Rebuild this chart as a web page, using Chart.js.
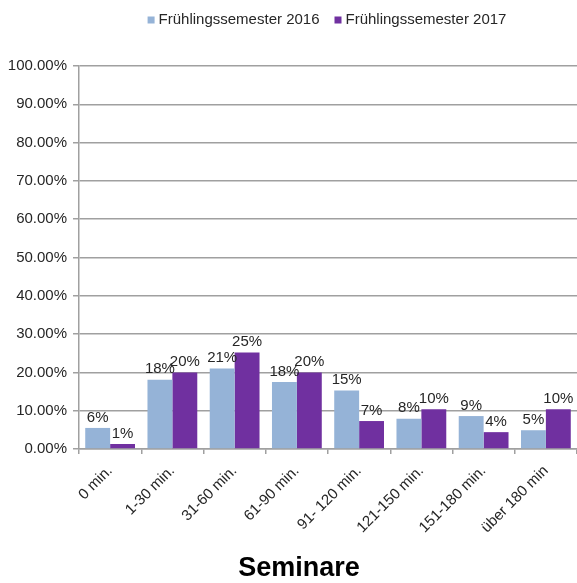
<!DOCTYPE html>
<html>
<head>
<meta charset="utf-8">
<script src="https://cdn.jsdelivr.net/npm/chart.js@4/dist/chart.umd.min.js"></script>
<style>
html,body{margin:0;padding:0;background:#fff;}
#wrap{position:relative;width:577px;height:583px;}
</style>
</head>
<body>
<div id="wrap"><canvas id="c" width="577" height="583"></canvas></div>
<script>
const categories = ["0 min.", "1-30 min.", "31-60 min.", "61-90 min.", "91- 120 min.", "121-150 min.", "151-180 min.", "über 180 min"];
const seriesNames = ["Frühlingssemester 2016", "Frühlingssemester 2017"];
const values2016 = [5.5, 18.1, 21.0, 17.5, 15.3, 7.9, 8.6, 4.9];
const values2017 = [1.3, 20.0, 25.2, 20.0, 7.3, 10.4, 4.4, 10.4];
const yTicks = [0, 10, 20, 30, 40, 50, 60, 70, 80, 90, 100];
const chartTitle = "Seminare";

const colors = ["#95b3d7", "#7030a0"];
const FONT = "'Liberation Sans', Arial, sans-serif";
const textColor = "#262626";

const labelPlugin = {
  id: 'barLabels',
  afterDatasetsDraw(chart) {
    const ctx = chart.ctx;
    ctx.save();
    ctx.font = "15px " + FONT;
    ctx.fillStyle = textColor;
    ctx.textAlign = 'center';
    ctx.textBaseline = 'bottom';
    chart.data.datasets.forEach((ds, di) => {
      const meta = chart.getDatasetMeta(di);
      meta.data.forEach((bar, i) => {
        ctx.fillText(Math.round(ds.data[i]) + '%', bar.x, bar.y - 3);
      });
    });
    ctx.restore();
  }
};

const legendTitlePlugin = {
  id: 'legendTitle',
  afterDraw(chart) {
    const ctx = chart.ctx;
    ctx.save();
    ctx.font = "15px " + FONT;
    ctx.textBaseline = 'middle';
    ctx.textAlign = 'left';
    const box = 7, gapBox = 4, gapItem = 15;
    const widths = seriesNames.map(n => ctx.measureText(n).width);
    let total = 0;
    widths.forEach((w, i) => { total += box + gapBox + w + (i < widths.length - 1 ? gapItem : 0); });
    let x = 327 - total / 2;
    const y = 20;
    seriesNames.forEach((n, i) => {
      ctx.fillStyle = colors[i];
      ctx.fillRect(x, y - box / 2, box, box);
      x += box + gapBox;
      ctx.fillStyle = textColor;
      ctx.fillText(n, x, y);
      x += widths[i] + gapItem;
    });
    ctx.font = "bold 27px " + FONT;
    ctx.fillStyle = "#000";
    ctx.textAlign = 'center';
    ctx.textBaseline = 'middle';
    ctx.fillText(chartTitle, 299, 569);
    ctx.restore();
  }
};

new Chart(document.getElementById('c'), {
  type: 'bar',
  data: {
    labels: categories,
    datasets: [
      { label: seriesNames[0], data: values2016, backgroundColor: colors[0] },
      { label: seriesNames[1], data: values2017, backgroundColor: colors[1] }
    ]
  },
  options: {
    responsive: false,
    animation: false,
    devicePixelRatio: 1,
    layout: { padding: { top: 66, right: 0, left: 0, bottom: 0 } },
    datasets: { bar: { categoryPercentage: 0.8, barPercentage: 1.0 } },
    plugins: { legend: { display: false }, tooltip: { enabled: false }, title: { display: false } },
    scales: {
      x: {
        afterFit(scale) { scale.height = 134; },
        grid: { display: true, drawOnChartArea: false, drawTicks: true, tickLength: 5, offset: true, color: '#a0a0a0', lineWidth: 1.5 },
        border: { color: '#a0a0a0', width: 1.5 },
        ticks: { minRotation: 45, maxRotation: 45, autoSkip: false, color: textColor, font: { family: FONT, size: 15 }, padding: 8 }
      },
      y: {
        min: 0, max: 100,
        afterFit(scale) { scale.width = 79; },
        afterBuildTicks(scale) { scale.ticks = yTicks.map(v => ({ value: v })); },
        grid: { color: '#a0a0a0', lineWidth: 1.5, tickLength: 6 },
        border: { color: '#a0a0a0', width: 1.5 },
        ticks: { color: textColor, font: { family: FONT, size: 15 }, padding: 6, callback: v => v.toFixed(2) + '%' }
      }
    }
  },
  plugins: [labelPlugin, legendTitlePlugin]
});
</script>
</body>
</html>
